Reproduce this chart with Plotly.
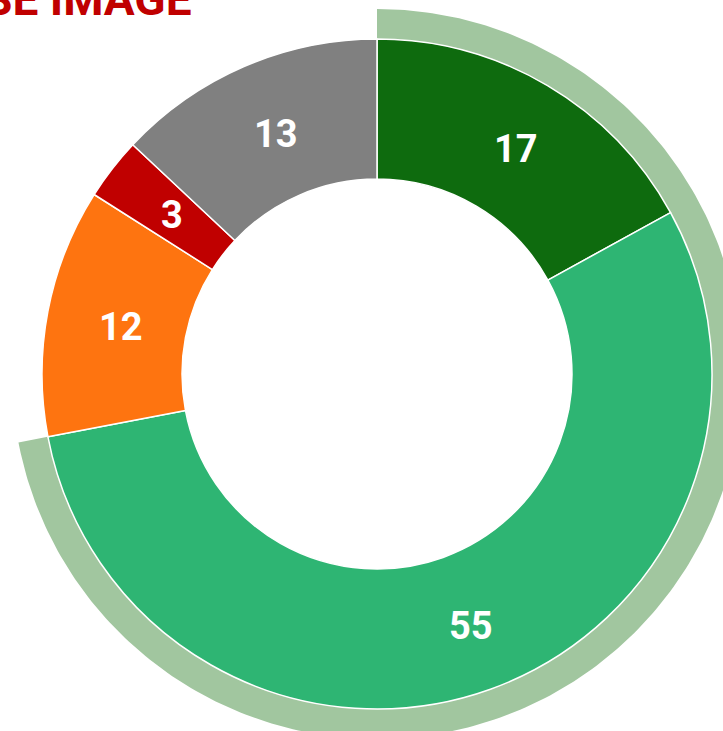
import numpy as np
import plotly.graph_objects as go

# survey shares (percent), clockwise from 12 o'clock
labels = ["Very positive", "Rather positive", "Rather negative", "Very negative", "Don't know"]
values = [17, 55, 12, 3, 13]
colors = ["#0e6b0e", "#2eb573", "#fe7410", "#c00000", "#808080"]
ring_group = [0, 1]  # slices grouped by the outer ring
title = "ENTERPRISE IMAGE"

W, H = 723, 731
cx, cy = 377, 374          # donut centre (px from top-left)
R = 335                    # donut outer radius
hole = 0.582
ring_out, ring_in = 365, 330

total = sum(values)
frac = sum(values[i] for i in ring_group) / total
th = np.linspace(np.pi / 2, np.pi / 2 - 2 * np.pi * frac, 300)
ring_x = np.concatenate([cx + ring_out * np.cos(th), cx + ring_in * np.cos(th[::-1])])
ring_y = np.concatenate([(H - cy) + ring_out * np.sin(th), (H - cy) + ring_in * np.sin(th[::-1])])

# label positions: middle of each slice
cum = np.cumsum([0] + values[:-1]) + np.array(values) / 2
mid = np.pi / 2 - 2 * np.pi * cum / total
r_mid = R * (1 + hole) / 2
lab_x = cx + 4 + r_mid * np.cos(mid)
lab_y = (H - cy) - 3 + r_mid * np.sin(mid)

fig = go.Figure()

fig.add_trace(go.Scatter(
    x=ring_x, y=ring_y,
    mode="lines",
    fill="toself",
    fillcolor="#a1c69f",
    line=dict(width=0),
    hoverinfo="skip",
    showlegend=False,
))

fig.add_trace(go.Pie(
    labels=labels,
    values=values,
    sort=False,
    direction="clockwise",
    rotation=0,
    hole=hole,
    marker=dict(colors=colors, line=dict(color="white", width=1.5)),
    textinfo="none",
    domain=dict(x=[(cx - R) / W, (cx + R) / W],
                y=[(H - cy - R) / H, (H - cy + R) / H]),
    showlegend=False,
))

for v, x, y in zip(values, lab_x, lab_y):
    fig.add_annotation(
        text=str(v), x=x, y=y, xref="x", yref="y",
        xanchor="center", yanchor="middle", showarrow=False,
        font=dict(family="Roboto, sans-serif", size=38, color="white", weight="bold"),
    )

fig.add_annotation(
    text=title,
    xref="paper", yref="paper",
    x=194 / W, y=1 - 28 / H,
    xanchor="right", yanchor="bottom",
    showarrow=False,
    font=dict(family="Roboto, sans-serif", size=46, color="#c00000", weight="bold"),
)

fig.update_layout(
    width=W, height=H,
    margin=dict(l=0, r=0, t=0, b=0),
    paper_bgcolor="white",
    plot_bgcolor="white",
    xaxis=dict(range=[0, W], visible=False, fixedrange=True),
    yaxis=dict(range=[0, H], visible=False, fixedrange=True),
)

fig.write_html("out.html", config={"displayModeBar": False},
               post_script="document.body.style.margin='0';")
